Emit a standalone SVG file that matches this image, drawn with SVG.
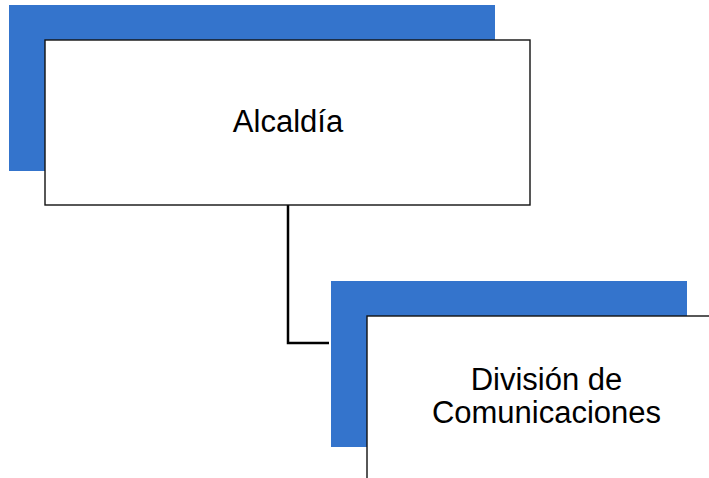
<svg xmlns="http://www.w3.org/2000/svg" width="709" height="478" viewBox="0 0 709 478">
<style>
.shadow{fill:#3474CC;}
.box{fill:#fff;stroke:#111;stroke-width:1.4;}
.lbl{font-family:"Liberation Sans",Arial,sans-serif;font-size:31px;fill:#000;text-anchor:middle;}
.conn{fill:none;stroke:#000;stroke-width:2.5;}
</style>
<rect width="709" height="478" fill="#fff"/>
<g id="connectors">
<path class="conn" d="M288,205 V343 H329"/>
</g>
<g id="node-alcaldia">
<rect class="shadow" x="9" y="5" width="486" height="166"/>
<rect class="box" x="45" y="40" width="485" height="165"/>
<text class="lbl" x="288" y="132">Alcaldía</text>
</g>
<g id="node-division">
<rect class="shadow" x="331" y="281" width="356" height="166"/>
<rect class="box" x="367" y="316" width="485" height="170"/>
<text class="lbl" x="546.5" y="390">División de</text>
<text class="lbl" x="546.5" y="423">Comunicaciones</text>
</g>
</svg>
